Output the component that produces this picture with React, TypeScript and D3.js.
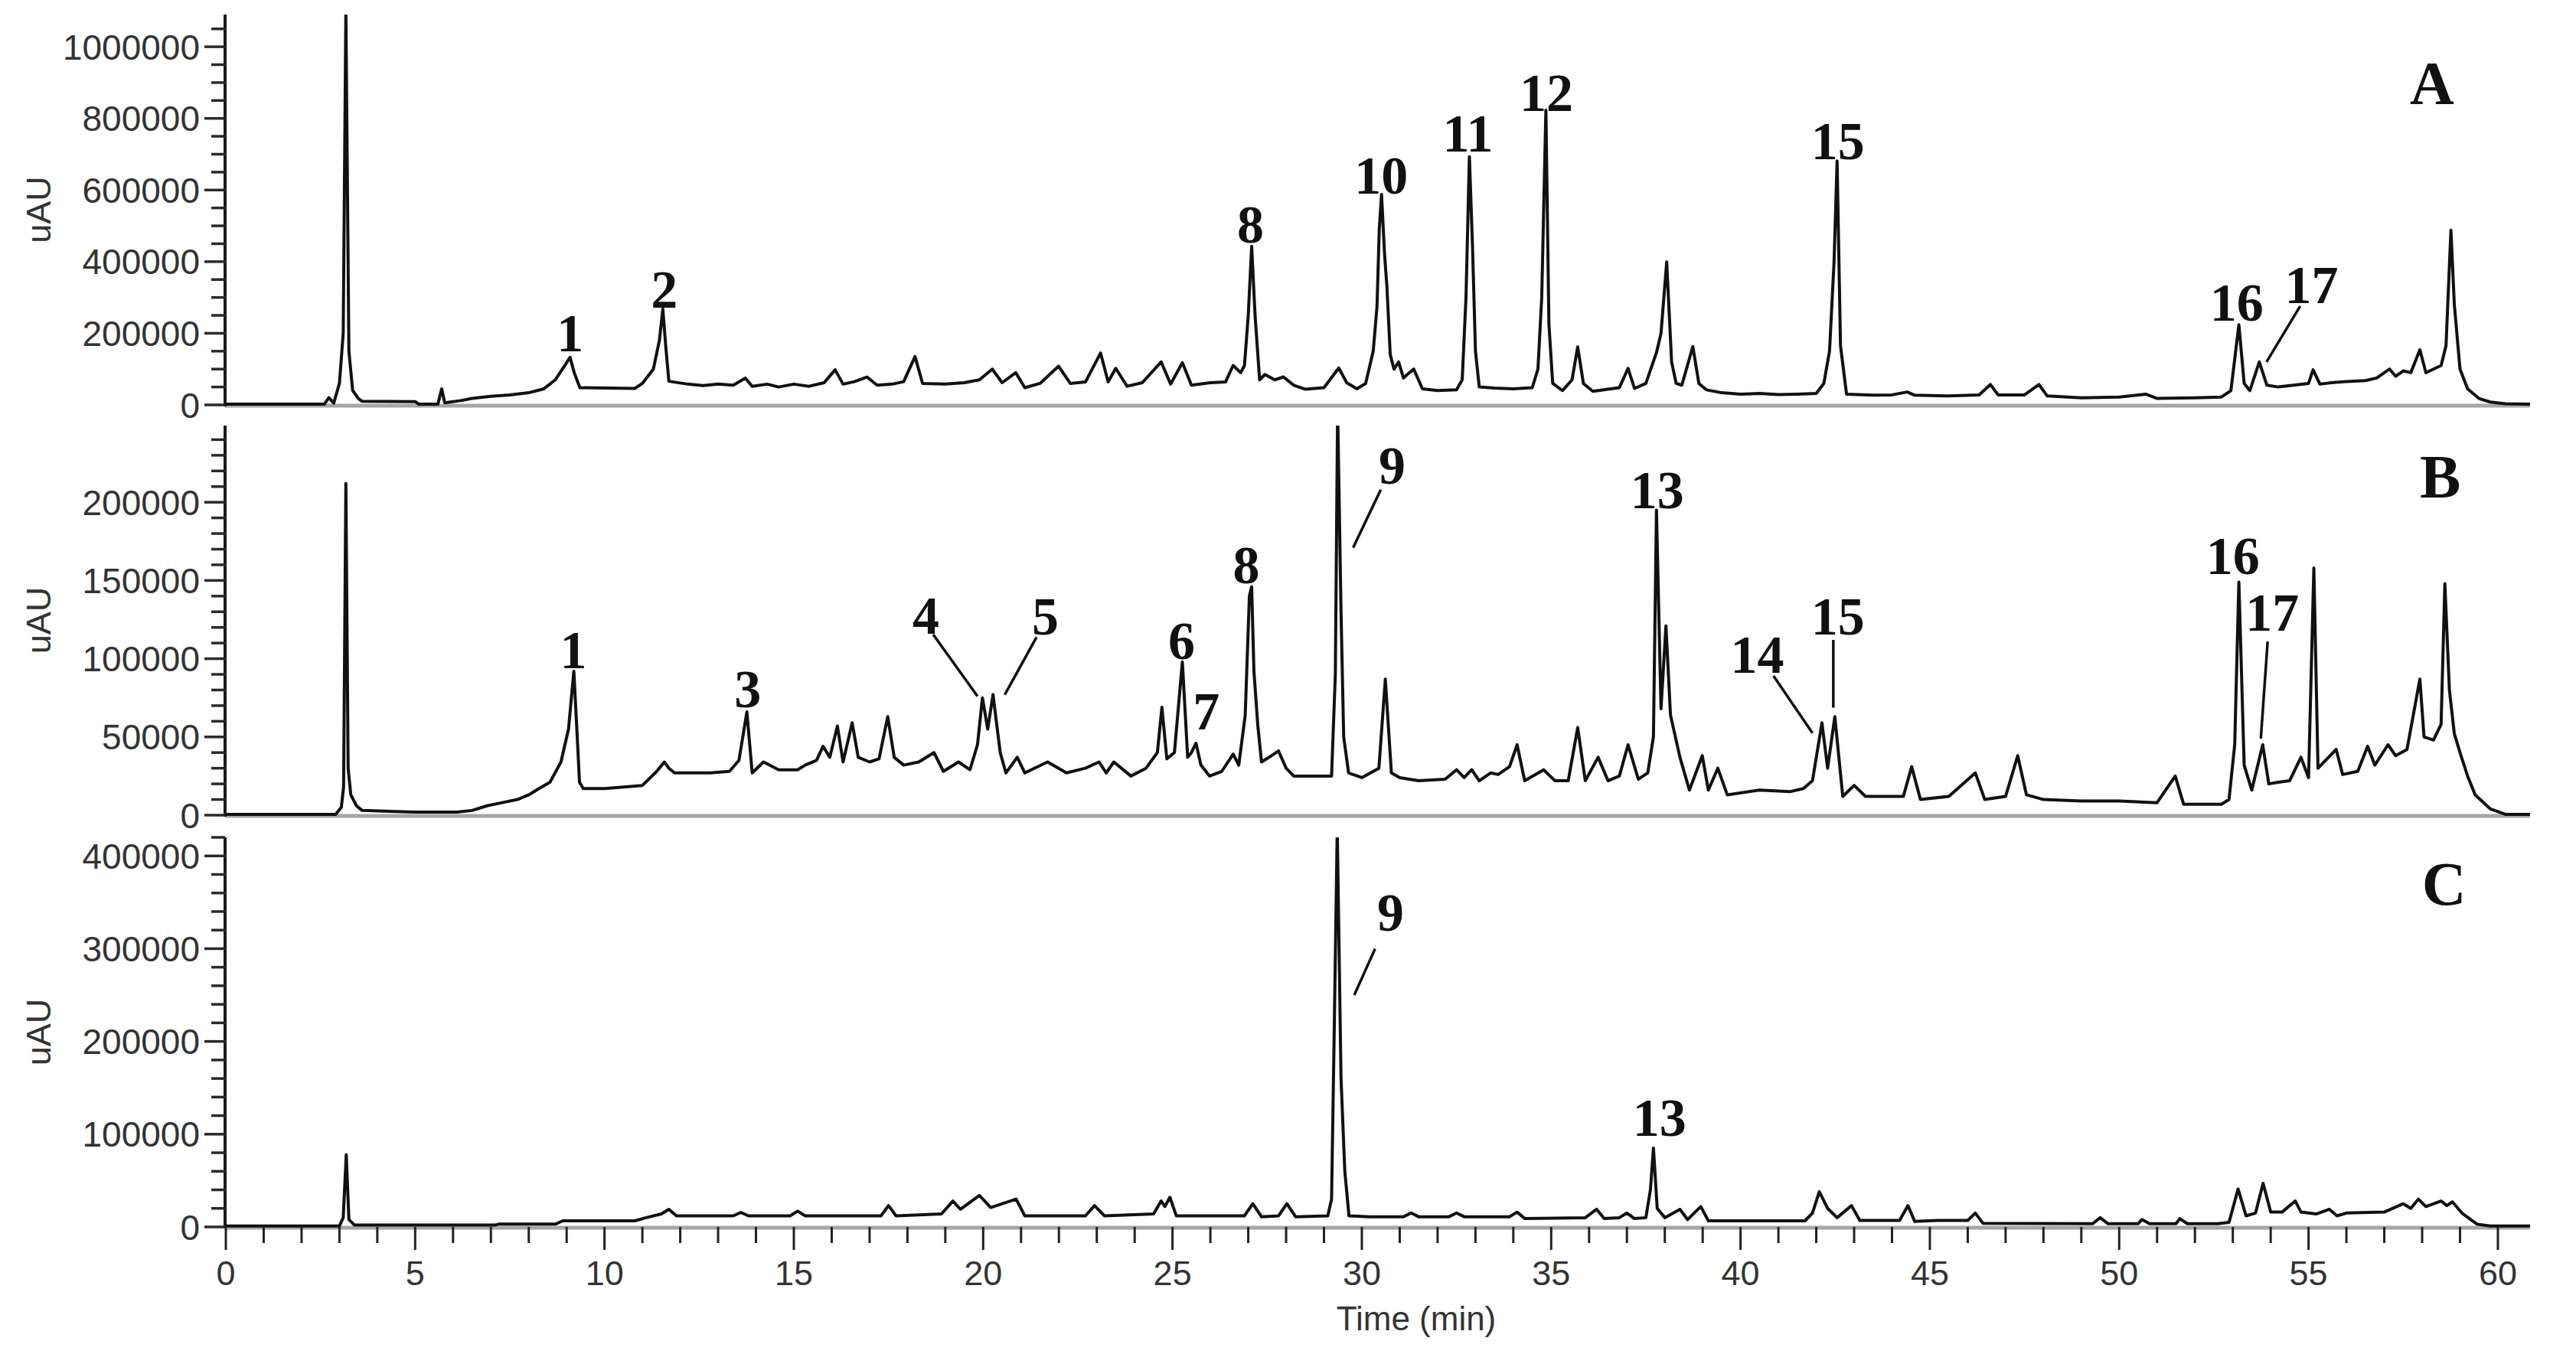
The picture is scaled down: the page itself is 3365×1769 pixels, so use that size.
import React from 'react';
import * as d3 from 'd3';

// ---------- data (time in min, signal in thousands of uAU) ----------
const timeMajorTicks = [0, 5, 10, 15, 20, 25, 30, 35, 40, 45, 50, 55, 60];

const traceA: [number, number][] = [
  [0, 2], [2.6, 2], [2.72, 20], [2.85, 5], [3.0, 60], [3.1, 200], [3.17, 1100], [3.25, 150], [3.35, 40], [3.5, 18], [3.6, 10],
  [5.0, 9], [5.1, 2], [5.6, 2], [5.7, 45], [5.78, 6], [6.2, 12], [6.5, 18], [7.0, 24], [7.5, 28], [8.0, 34], [8.4, 45],
  [8.7, 70], [8.95, 110], [9.09, 133], [9.2, 90], [9.35, 48], [10.8, 46], [11.0, 60], [11.29, 100], [11.45, 180], [11.54, 268],
  [11.62, 160], [11.7, 66], [12.2, 58], [12.6, 54], [13.0, 58], [13.4, 55], [13.72, 75], [13.9, 52], [14.3, 58], [14.6, 50],
  [15.0, 58], [15.4, 52], [15.8, 62], [16.09, 98], [16.3, 58], [16.6, 65], [16.93, 78], [17.2, 55], [17.6, 58], [17.9, 65],
  [18.2, 135], [18.4, 60], [19.0, 58], [19.5, 62], [19.9, 70], [20.24, 100], [20.5, 62], [20.86, 90], [21.1, 48], [21.5, 60],
  [21.99, 108], [22.3, 60], [22.7, 64], [23.1, 145], [23.3, 64], [23.5, 102], [23.8, 52], [24.2, 62], [24.7, 120], [24.95, 58],
  [25.26, 118], [25.5, 55], [26.0, 62], [26.4, 64], [26.6, 110], [26.8, 90], [26.9, 110], [27.0, 250], [27.09, 443], [27.18, 250],
  [27.3, 70], [27.44, 85], [27.7, 70], [27.93, 78], [28.2, 55], [28.5, 44], [29.0, 48], [29.39, 103], [29.6, 62], [29.87, 45],
  [30.1, 60], [30.3, 150], [30.4, 275], [30.46, 490], [30.52, 588], [30.6, 420], [30.66, 333], [30.75, 140], [30.85, 100],
  [30.97, 120], [31.1, 75], [31.2, 85], [31.37, 100], [31.6, 45], [32.0, 40], [32.5, 42], [32.65, 70], [32.75, 300], [32.84, 693],
  [32.92, 450], [33.0, 150], [33.1, 50], [33.5, 47], [34.0, 45], [34.5, 48], [34.65, 100], [34.75, 300], [34.86, 823], [34.94, 226],
  [35.04, 60], [35.3, 40], [35.55, 70], [35.7, 162], [35.85, 60], [36.1, 38], [36.5, 44], [36.8, 48], [37.03, 102], [37.2, 46],
  [37.5, 60], [37.78, 146], [37.9, 200], [38.05, 399], [38.18, 120], [38.3, 60], [38.45, 55], [38.74, 163], [38.9, 60], [39.1, 42],
  [39.5, 34], [40.0, 30], [40.5, 32], [41.0, 29], [41.5, 30], [42.0, 32], [42.2, 60], [42.35, 150], [42.47, 400], [42.55, 681],
  [42.64, 165], [42.8, 30], [43.5, 27], [44.0, 28], [44.4, 36], [44.6, 27], [45.5, 25], [46.3, 28], [46.6, 57], [46.8, 28],
  [47.5, 28], [47.88, 57], [48.1, 25], [49.0, 20], [50.0, 22], [50.7, 30], [51.0, 18], [52.0, 20], [52.7, 22], [52.95, 40],
  [53.16, 224], [53.3, 60], [53.45, 40], [53.7, 120], [53.9, 55], [54.2, 50], [54.6, 55], [55.0, 60], [55.12, 98], [55.3, 58],
  [55.6, 62], [56.0, 65], [56.5, 68], [56.8, 75], [57.14, 100], [57.3, 80], [57.5, 95], [57.7, 90], [57.94, 154], [58.1, 90],
  [58.3, 100], [58.5, 110], [58.63, 165], [58.76, 488], [58.85, 280], [59.0, 100], [59.2, 45], [59.5, 18], [59.8, 8], [60.2, 3],
  [60.85, 2],
];

const traceB: [number, number][] = [
  [0, 0.5], [2.9, 0.5], [3.05, 5], [3.11, 18], [3.17, 212], [3.23, 30], [3.3, 13], [3.45, 6], [3.6, 3], [5.0, 2], [6.1, 2],
  [6.5, 3], [6.9, 6], [7.3, 8], [7.7, 10], [8.0, 13], [8.27, 17], [8.56, 21], [8.85, 34], [9.05, 55], [9.19, 92], [9.28, 50],
  [9.34, 21], [9.44, 17], [10.0, 17], [10.5, 18], [11.0, 19], [11.38, 28], [11.58, 34], [11.7, 30], [11.85, 27], [12.3, 27],
  [12.8, 27], [13.3, 28], [13.55, 35], [13.76, 66], [13.9, 27], [14.2, 34], [14.6, 29], [15.1, 29], [15.3, 32], [15.6, 35],
  [15.77, 44], [15.95, 37], [16.15, 57], [16.3, 34], [16.54, 59], [16.7, 37], [17.0, 34], [17.25, 36], [17.48, 63], [17.65, 37],
  [17.9, 32], [18.3, 34], [18.7, 40], [18.95, 28], [19.35, 34], [19.65, 29], [19.85, 45], [19.98, 75], [20.12, 55], [20.26, 77],
  [20.45, 40], [20.6, 27], [20.9, 37], [21.1, 27], [21.7, 34], [22.2, 27], [22.7, 30], [23.06, 34], [23.25, 27], [23.45, 34],
  [23.9, 25], [24.3, 30], [24.6, 40], [24.72, 69], [24.85, 36], [25.05, 40], [25.26, 98], [25.4, 37], [25.5, 40], [25.62, 46],
  [25.75, 32], [25.98, 25], [26.3, 28], [26.6, 39], [26.75, 32], [26.92, 64], [27.03, 140], [27.09, 146], [27.15, 92], [27.25, 58],
  [27.35, 34], [27.55, 37], [27.8, 41], [28.0, 30], [28.2, 25], [28.5, 25], [29.2, 25], [29.3, 90], [29.36, 260], [29.45, 130],
  [29.52, 50], [29.65, 27], [30.0, 24], [30.45, 30], [30.62, 87], [30.78, 27], [31.0, 24], [31.5, 22], [32.2, 23], [32.5, 29],
  [32.7, 24], [32.9, 29], [33.1, 22], [33.4, 27], [33.6, 26], [33.9, 31], [34.1, 45], [34.3, 22], [34.8, 29], [35.1, 22],
  [35.45, 22], [35.7, 56], [35.9, 22], [36.24, 37], [36.5, 22], [36.8, 25], [37.03, 45], [37.3, 23], [37.55, 27], [37.7, 50],
  [37.78, 195], [37.9, 68], [38.03, 121], [38.15, 64], [38.4, 37], [38.65, 16], [38.99, 38], [39.15, 16], [39.4, 30], [39.65, 13],
  [40.5, 16], [41.3, 15], [41.66, 17], [41.9, 22], [42.15, 59], [42.3, 30], [42.49, 63], [42.7, 12], [43.0, 19], [43.3, 12],
  [44.3, 12], [44.52, 31], [44.75, 10], [45.5, 12], [46.2, 27], [46.45, 10], [47.0, 12], [47.32, 38], [47.55, 13], [48.0, 10],
  [49.0, 9], [50.0, 9], [51.0, 8], [51.48, 25], [51.7, 7], [52.7, 7], [52.9, 10], [53.05, 45], [53.16, 149], [53.3, 32],
  [53.5, 16], [53.79, 45], [53.95, 20], [54.2, 21], [54.5, 22], [54.8, 37], [55.0, 24], [55.14, 158], [55.25, 30], [55.45, 35],
  [55.73, 42], [55.9, 26], [56.3, 28], [56.56, 44], [56.75, 32], [57.1, 45], [57.3, 38], [57.6, 42], [57.94, 87], [58.05, 50],
  [58.3, 48], [58.5, 58], [58.6, 148], [58.72, 80], [58.85, 52], [59.0, 40], [59.2, 25], [59.4, 13], [59.8, 4], [60.2, 0.5],
  [60.85, 0.5],
];

const traceC: [number, number][] = [
  [0, 1], [3.0, 1], [3.1, 10], [3.18, 78], [3.25, 8], [3.4, 2], [7.1, 2], [7.2, 3], [8.7, 3], [8.9, 6.6], [10.8, 6.6], [11.1, 10],
  [11.5, 14], [11.7, 19], [11.9, 12], [13.4, 12], [13.6, 15.7], [13.8, 12], [14.9, 12], [15.1, 17], [15.3, 12], [17.3, 12],
  [17.5, 23], [17.7, 12], [18.9, 14], [19.2, 28], [19.4, 19], [19.9, 34], [20.2, 21], [20.87, 30], [21.1, 12], [22.7, 12],
  [22.94, 23], [23.2, 12], [24.5, 14], [24.7, 28], [24.8, 22], [24.93, 32], [25.1, 12], [26.9, 12], [27.12, 25], [27.35, 11],
  [27.8, 12], [28.02, 25], [28.25, 11], [29.1, 12], [29.2, 30], [29.27, 210], [29.35, 430], [29.45, 160], [29.55, 60], [29.66, 12],
  [30.2, 11], [31.1, 11], [31.3, 15], [31.5, 11], [32.3, 11], [32.5, 15], [32.7, 11], [33.9, 11], [34.1, 16], [34.3, 9],
  [35.9, 10], [36.2, 19], [36.4, 9], [36.8, 10], [37.0, 15], [37.2, 9], [37.5, 10], [37.62, 40], [37.7, 85], [37.8, 20],
  [38.0, 10], [38.4, 19], [38.6, 8], [38.95, 22], [39.15, 6.6], [41.7, 6.6], [41.9, 15], [42.08, 38], [42.3, 20], [42.55, 10],
  [42.93, 23], [43.15, 7], [44.2, 7], [44.42, 23], [44.6, 6], [45.2, 7], [46.0, 7], [46.2, 15], [46.4, 4], [49.3, 3.5],
  [49.5, 10], [49.7, 3.5], [50.5, 3.5], [50.6, 8], [50.8, 3.5], [51.5, 3.5], [51.6, 9], [51.8, 3.5], [52.6, 3.5], [52.9, 5],
  [53.14, 41], [53.35, 12], [53.6, 15], [53.8, 47], [54.0, 16], [54.3, 16], [54.65, 28], [54.8, 16], [55.2, 14], [55.55, 19],
  [55.75, 12], [56.0, 15], [57.0, 16], [57.5, 25], [57.7, 20], [57.9, 30], [58.1, 22], [58.5, 28], [58.65, 23], [58.8, 27],
  [59.05, 15], [59.45, 3], [59.8, 1], [60.85, 1],
];

// peak labels: [text, time, baseline value (k)]
const labelsA: [string, number, number][] = [
  ['1', 9.09, 150], ['2', 11.58, 272], ['8', 27.06, 454], ['10', 30.51, 589], ['11', 32.8, 707],
  ['12', 34.87, 821], ['15', 42.57, 685], ['16', 53.1, 235], ['17', 55.08, 284],
];
const labelsB: [string, number, number][] = [
  ['1', 9.18, 94], ['3', 13.78, 69], ['4', 18.49, 116], ['5', 21.64, 115.5], ['6', 25.24, 100], ['7', 25.89, 55],
  ['8', 26.95, 148], ['9', 30.8, 212], ['13', 37.8, 196], ['14', 40.44, 91], ['15', 42.57, 115.5], ['16', 53.0, 154],
  ['17', 54.04, 118],
];
const labelsC: [string, number, number][] = [['9', 30.76, 319], ['13', 37.86, 98]];

// leader lines: [t1, v1, t2, v2]
const leadersA: [number, number, number, number][] = [[54.78, 276, 53.89, 120]];
const leadersB: [number, number, number, number][] = [
  [18.68, 115.5, 19.85, 76], [21.41, 113.8, 20.57, 77], [30.5, 208, 29.77, 171], [40.87, 89, 41.9, 52.5],
  [42.45, 112, 42.45, 68.7], [53.92, 111, 53.74, 49],
];
const leadersC: [number, number, number, number][] = [[30.35, 300, 29.8, 250]];

// panel letters: [letter, time, baseline value (k)]
const panelLetters: [string, number, number][] = [['A', 58.26, 840], ['B', 58.48, 203], ['C', 58.58, 347]];

// y-axis: [max (k), major step (k), minor step (k)]
const yAxes: [number, number, number][] = [[1090, 200, 50], [249, 50, 10], [420, 100, 20]];

// ---------- layout ----------
const W = 3365;
const H = 1769;
const AX_X = 294;
const PANELS = [
  { top: 19, zero: 529 },
  { top: 556, zero: 1065 },
  { top: 1094, zero: 1603 },
];
const SANS = "'Liberation Sans', Arial, sans-serif";
const SERIF = "'Liberation Serif', 'Times New Roman', serif";

export default function App() {
  const x = d3.scaleLinear().domain([0, 60.85]).range([295, 3305]);
  const traces = [traceA, traceB, traceC];
  const labels = [labelsA, labelsB, labelsC];
  const leaders = [leadersA, leadersB, leadersC];
  const minorTimes = d3.range(0, 61, 1);

  return (
    <svg width={W} height={H} style={{ position: 'absolute', left: 0, top: 0, background: '#fff' }}>
      <rect x={0} y={0} width={W} height={H} fill="#fff" />
      {PANELS.map((p, i) => {
        const [max, major, minor] = yAxes[i];
        const y = d3.scaleLinear().domain([0, max]).range([p.zero, p.top]);
        const line = d3.line<[number, number]>().x((d) => x(d[0])).y((d) => y(d[1]));
        const minorVals = d3.range(0, max + 1e-6, minor).filter((v) => Math.abs(v / major - Math.round(v / major)) > 1e-6);
        const majorVals = d3.range(0, max + 1e-6, major);
        const letter = panelLetters[i];
        return (
          <g key={i}>
            <defs>
              <clipPath id={`clip${i}`}>
                <rect x={AX_X} y={p.top} width={3320 - AX_X} height={p.zero - p.top + 6} />
              </clipPath>
            </defs>
            {/* x baseline */}
            <line x1={AX_X} x2={3305} y1={p.zero + 1} y2={p.zero + 1} stroke="#a6a6a6" strokeWidth={5} />
            {/* y axis */}
            <line x1={AX_X} x2={AX_X} y1={p.top} y2={p.zero + 2} stroke="#1a1a1a" strokeWidth={4} />
            {minorVals.map((v) => (
              <line key={'m' + v} x1={AX_X - 18} x2={AX_X} y1={y(v)} y2={y(v)} stroke="#2a2a2a" strokeWidth={3.5} />
            ))}
            {majorVals.map((v) => (
              <g key={'M' + v}>
                <line x1={AX_X - 27} x2={AX_X} y1={y(v)} y2={y(v)} stroke="#2a2a2a" strokeWidth={3.5} />
                <text x={261} y={y(v)} dy="0.36em" textAnchor="end" fontFamily={SANS} fontSize={46} fill="#333">
                  {String(Math.round(v * 1000))}
                </text>
              </g>
            ))}
            <text
              transform={`translate(${66},${(p.top + p.zero) / 2}) rotate(-90)`}
              textAnchor="middle"
              fontFamily={SANS}
              fontSize={45}
              fill="#333"
            >
              uAU
            </text>
            {/* trace */}
            <g clipPath={`url(#clip${i})`}>
              <path d={line(traces[i]) || ''} fill="none" stroke="#111" strokeWidth={4} strokeLinejoin="round" />
            </g>
            {/* leaders */}
            {leaders[i].map((l, k) => (
              <line key={'l' + k} x1={x(l[0])} y1={y(l[1])} x2={x(l[2])} y2={y(l[3])} stroke="#111" strokeWidth={3.5} />
            ))}
            {/* labels */}
            {labels[i].map((lb, k) => (
              <text key={'t' + k} x={x(lb[1])} y={y(lb[2])} textAnchor="middle" fontFamily={SERIF} fontWeight="bold" fontSize={70} fill="#111">
                {lb[0]}
              </text>
            ))}
            <text x={x(letter[1])} y={y(letter[2])} textAnchor="middle" fontFamily={SERIF} fontWeight="bold" fontSize={80} fill="#111">
              {letter[0]}
            </text>
          </g>
        );
      })}
      {/* time axis ticks on bottom panel */}
      {minorTimes.map((t) => {
        const isMajor = t % 5 === 0;
        const z = PANELS[2].zero;
        return (
          <line key={'xt' + t} x1={x(t)} x2={x(t)} y1={z} y2={z + (isMajor ? 30 : 21)} stroke="#222" strokeWidth={3} />
        );
      })}
      {timeMajorTicks.map((t) => (
        <text key={'xl' + t} x={x(t)} y={1679} textAnchor="middle" fontFamily={SANS} fontSize={45} fill="#333">
          {t}
        </text>
      ))}
      <text x={1850} y={1738} textAnchor="middle" fontFamily={SANS} fontSize={44} fill="#333">
        Time (min)
      </text>
    </svg>
  );
}
